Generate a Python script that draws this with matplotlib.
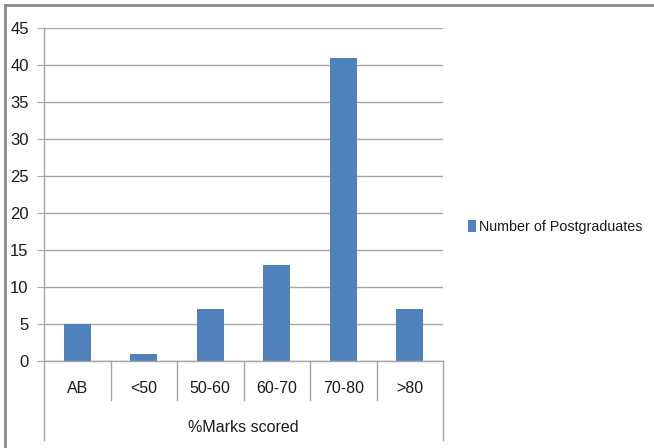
import matplotlib
matplotlib.use("Agg")
import matplotlib.pyplot as plt
import matplotlib.transforms as mtransforms
import numpy as np
from matplotlib.lines import Line2D
from matplotlib.patches import Patch

plt.rcParams["font.family"] = ["Liberation Sans Narrow", "Liberation Sans", "DejaVu Sans"]

categories = ["AB", "<50", "50-60", "60-70", "70-80", ">80"]
postgraduates = [5, 1, 7, 13, 41, 7]
y_ticks = [0, 5, 10, 15, 20, 25, 30, 35, 40, 45]

BAR = "#4F81BD"
GRID = "#A6A6A6"
TEXT = "#1A1A1A"

fig = plt.figure(figsize=(6.54, 4.48), dpi=100)
ax = fig.add_axes([0.0673, 0.1942, 0.6101, 0.7433])

x = np.arange(len(categories))
ax.bar(x, postgraduates, width=0.4, color=BAR, zorder=2)

ax.set_xlim(-0.5, len(categories) - 0.5)
ax.set_ylim(0, 45)
ax.set_yticks(y_ticks)
ax.set_yticklabels([str(t) for t in y_ticks], fontsize=12, color=TEXT)
ax.tick_params(axis="y", length=5, color=GRID, pad=6)
ax.set_xticks([])
ax.grid(axis="y", color=GRID, linewidth=1.0, zorder=0)
ax.set_axisbelow(True)

for side in ("top", "right"):
    ax.spines[side].set_visible(False)
for side in ("left", "bottom"):
    ax.spines[side].set_color(GRID)
    ax.spines[side].set_linewidth(1.0)

# category box below the axis: dividers, labels and the group title
trans = mtransforms.blended_transform_factory(ax.transData, ax.transAxes)
for i in range(len(categories) + 1):
    edge = i - 0.5
    low = -0.237 if i in (0, len(categories)) else -0.117
    ax.add_line(Line2D([edge, edge], [0, low], transform=trans, color=GRID,
                       linewidth=1.0, clip_on=False))
for i, cat in enumerate(categories):
    ax.text(i, -0.082, cat, transform=trans, ha="center", va="center",
            fontsize=11.5, color=TEXT)
ax.text((len(categories) - 1) / 2, -0.2, "%Marks scored", transform=trans,
        ha="center", va="center", fontsize=11.5, color=TEXT)

ax.legend(handles=[Patch(facecolor=BAR, label="Number of Postgraduates")],
          loc="center left", bbox_to_anchor=(1.03, 0.402), frameon=False,
          fontsize=10.3, handlelength=0.6, handleheight=0.9, handletextpad=0.2,
          labelcolor=TEXT)

# chart border (left and top edges only)
fig.add_artist(Line2D([0.008, 0.008], [0.0, 0.988], transform=fig.transFigure,
                      color="#8C8C8C", linewidth=2))
fig.add_artist(Line2D([0.008, 0.998], [0.988, 0.988], transform=fig.transFigure,
                      color="#8C8C8C", linewidth=2))

fig.savefig("out.png", dpi=100)
